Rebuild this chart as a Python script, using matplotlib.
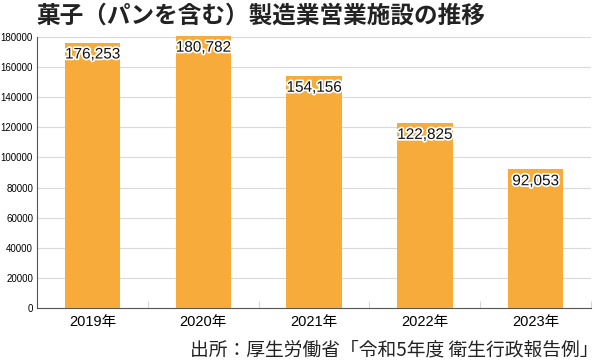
import matplotlib
matplotlib.use("Agg")
import matplotlib.pyplot as plt
import matplotlib.patheffects as pe
from matplotlib.ticker import FixedLocator

plt.rcParams['font.family'] = ['Noto Sans CJK JP', 'DejaVu Sans']

categories = ["2019年", "2020年", "2021年", "2022年", "2023年"]
values = [176253, 180782, 154156, 122825, 92053]
yticks = [0, 20000, 40000, 60000, 80000, 100000, 120000, 140000, 160000, 180000]
title = "菓子（パンを含む）製造業営業施設の推移"
source = "出所：厚生労働省「令和5年度 衛生行政報告例」"

fig = plt.figure(figsize=(6.0, 3.61), dpi=100)
ax = fig.add_axes([0.062, 0.147, 0.923, 0.7505])

x = list(range(len(categories)))
bars = ax.bar(x, values, width=0.5, color="#F6AB3B", zorder=3, clip_on=False)

ax.set_xlim(-0.5, len(categories) - 0.5)
ax.set_ylim(0, 180000)
ax.set_yticks(yticks)
ax.set_yticklabels([str(v) for v in yticks], fontsize=7, family=['Liberation Sans', 'DejaVu Sans'])
ax.set_xticks(x)
ax.set_xticklabels(categories, fontsize=10.5, family=['Liberation Sans', 'Noto Sans CJK JP'])
ax.xaxis.set_minor_locator(FixedLocator([i + 0.5 for i in x[:-1]] + [len(categories) - 0.5]))
ax.tick_params(axis='x', which='major', length=0, pad=5)
ax.tick_params(axis='x', which='minor', length=5, color="#cccccc", direction='in')
ax.tick_params(axis='y', length=0, pad=3)
ax.grid(axis='y', color="#d9d9d9", linewidth=0.8, zorder=0)

for s in ['top', 'right']:
    ax.spines[s].set_visible(False)
for s in ['left', 'bottom']:
    ax.spines[s].set_color("#555555")
    ax.spines[s].set_linewidth(0.8)

for xi, v in zip(x, values):
    ax.annotate(f"{v:,}", (xi, v), xytext=(0, -3.5), textcoords='offset points',
                ha='center', va='top', fontsize=11, color="#111111", zorder=5,
                family=['Liberation Sans', 'DejaVu Sans'], annotation_clip=False,
                path_effects=[pe.withStroke(linewidth=2.5, foreground='white')])

fig.text(0.435, 0.958, title, ha='center', va='center', fontsize=17, fontweight='bold', color="#222222")
fig.text(0.997, 0.03, source, ha='right', va='center', fontsize=13.5, color="#222222")

fig.savefig("out.png", dpi=100)
